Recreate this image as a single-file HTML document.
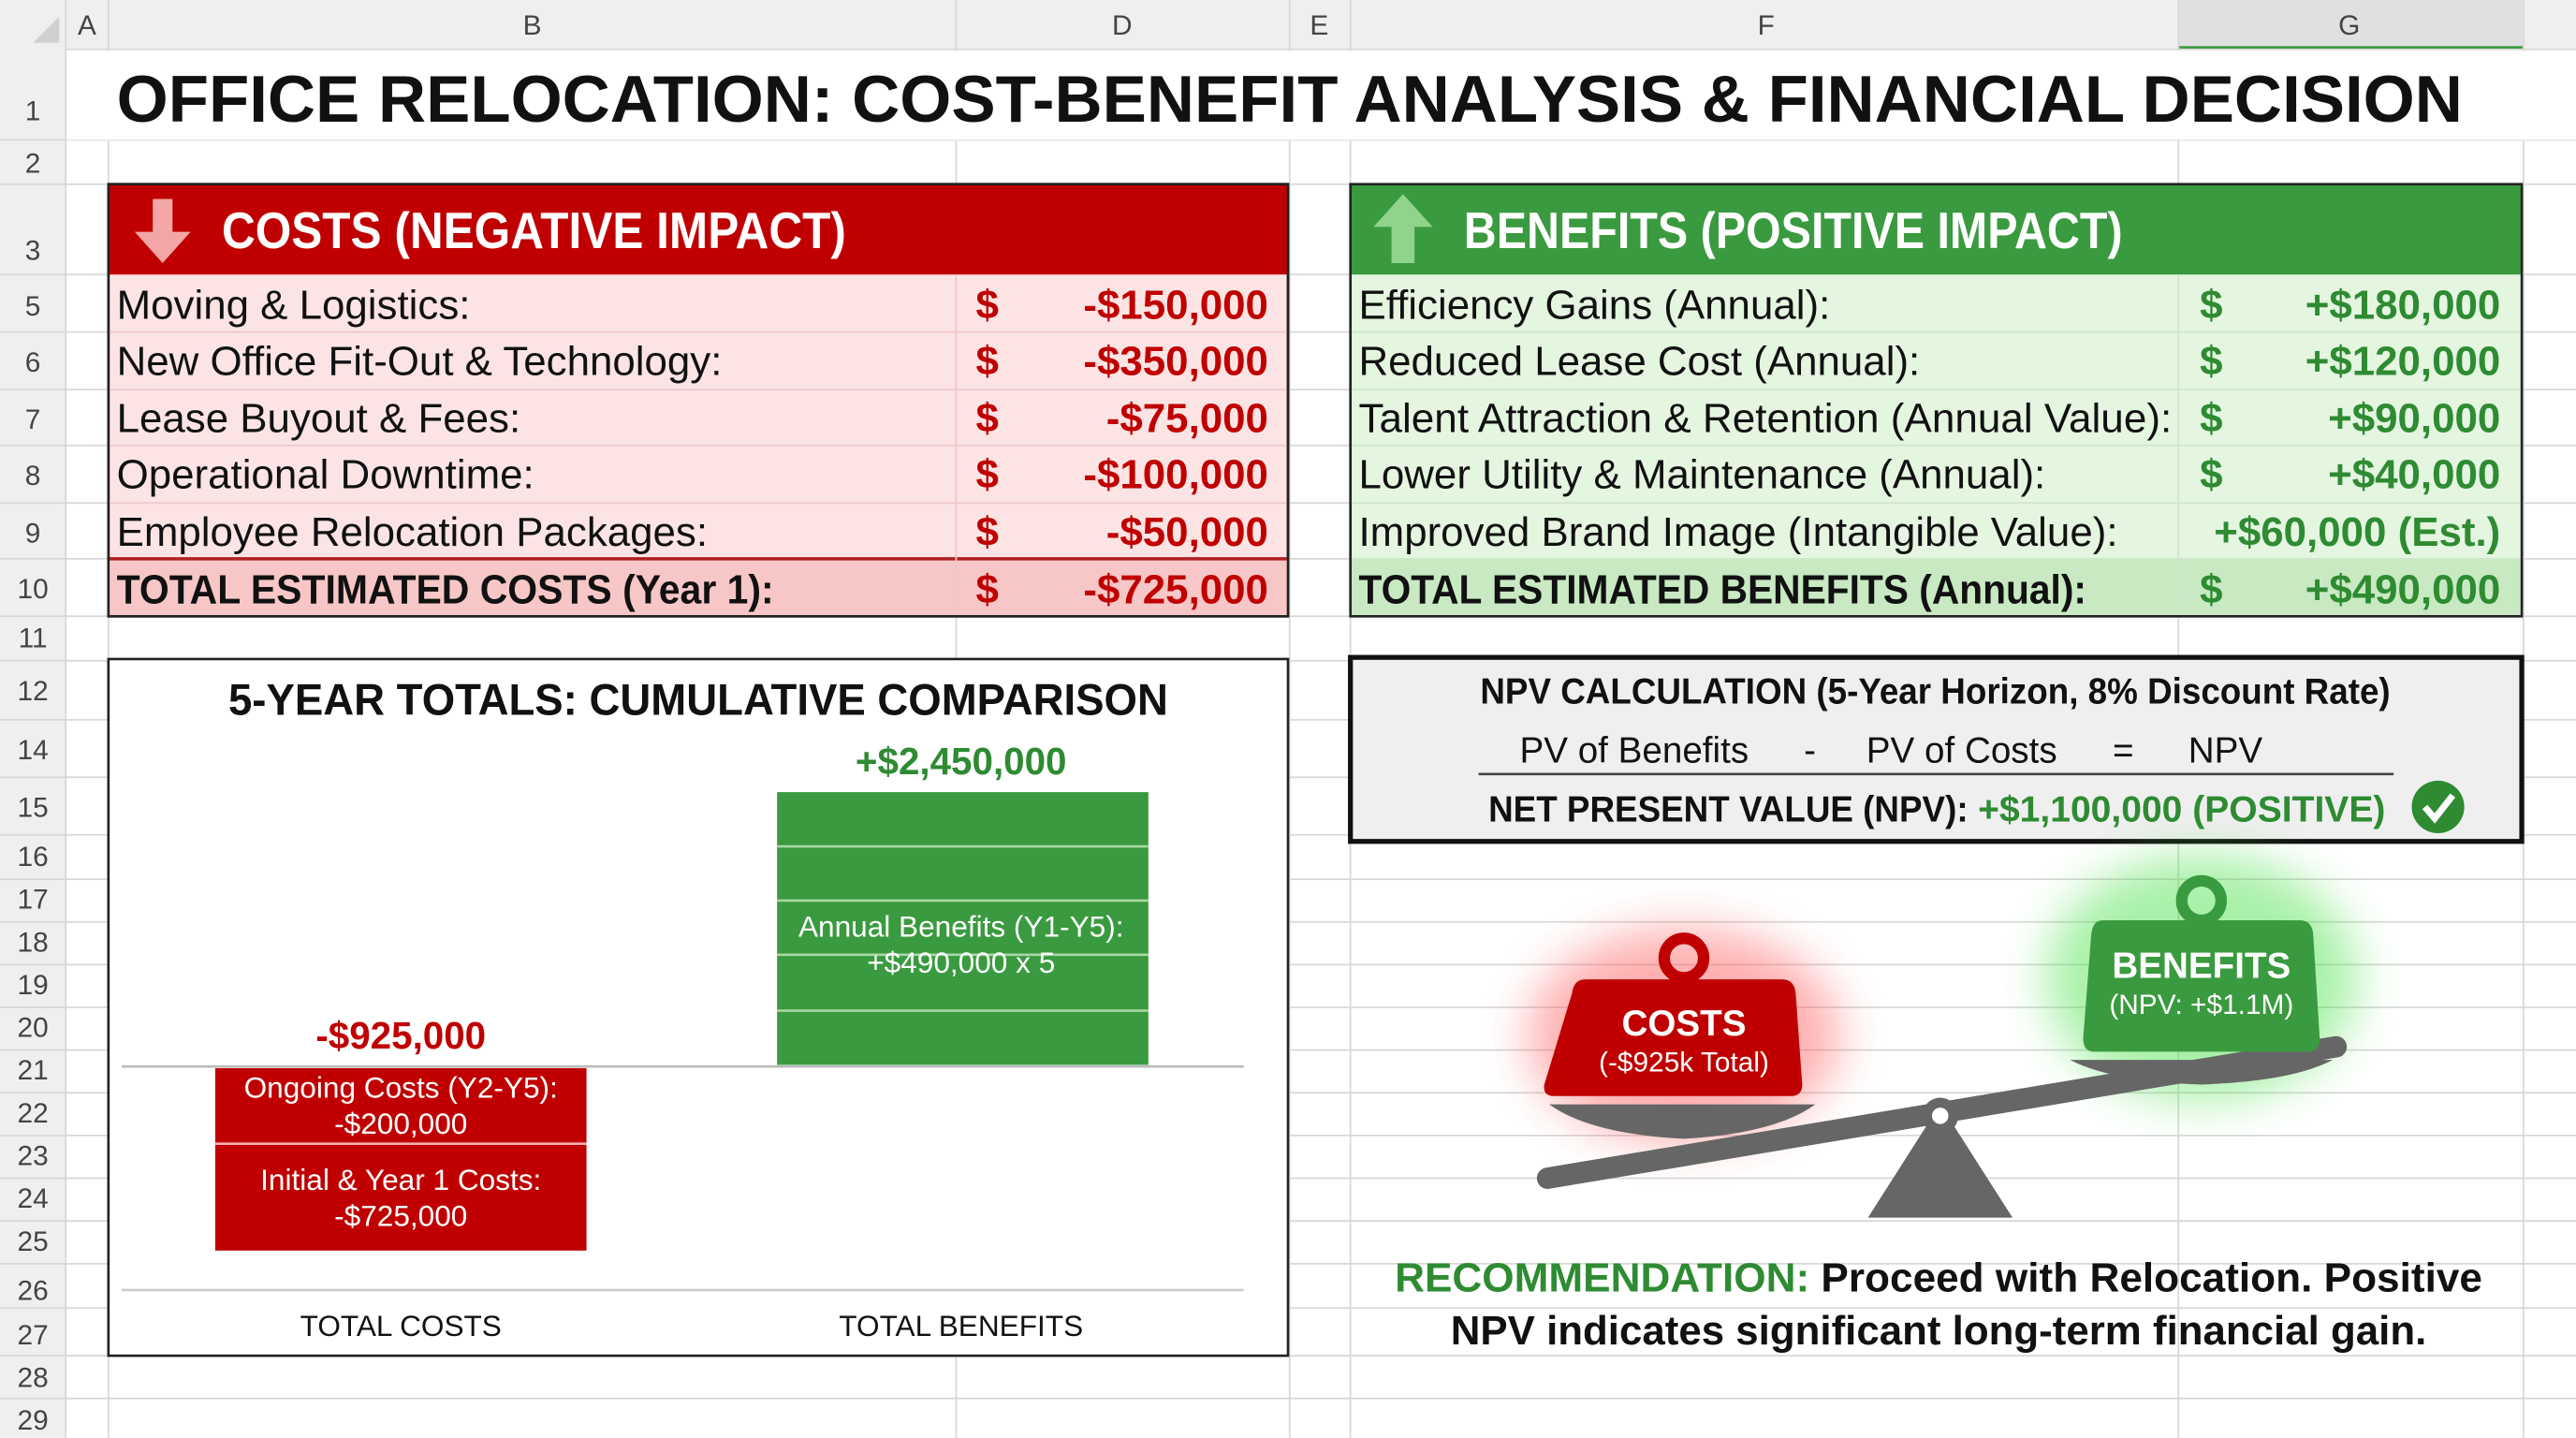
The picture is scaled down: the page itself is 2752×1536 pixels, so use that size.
<!DOCTYPE html>
<html><head><meta charset="utf-8"><style>html,body{margin:0;padding:0;background:#fff}svg{display:block}text{font-family:"Liberation Sans",sans-serif}</style></head><body>
<svg width="2752" height="1536" viewBox="0 0 1568 875" xmlns="http://www.w3.org/2000/svg">
<defs>
<filter id="gl" x="-50%" y="-50%" width="200%" height="200%"><feGaussianBlur stdDeviation="14"/></filter>
</defs>
<rect width="1568" height="875" fill="#fff"/>
<!-- headers -->
<rect x="0" y="0" width="1568" height="30" fill="#efefef"/>
<rect x="0" y="0" width="40" height="875" fill="#efefef"/>
<rect x="1326" y="0" width="210" height="30" fill="#e0e0e0"/>
<line x1="1326" y1="29" x2="1536" y2="29" stroke="#3a9a3f" stroke-width="2"/>
<g stroke="#d8d8d8" stroke-width="1">
<line x1="40" y1="30" x2="1568" y2="30"/>
<line x1="40" y1="0" x2="40" y2="875"/><line x1="66" y1="0" x2="66" y2="875"/><line x1="582" y1="0" x2="582" y2="875"/><line x1="785" y1="0" x2="785" y2="875"/><line x1="822" y1="0" x2="822" y2="875"/><line x1="1326" y1="0" x2="1326" y2="875"/><line x1="1536" y1="0" x2="1536" y2="875"/>
<line x1="0" y1="85" x2="1568" y2="85"/><line x1="0" y1="112" x2="1568" y2="112"/><line x1="0" y1="167" x2="1568" y2="167"/><line x1="0" y1="202" x2="1568" y2="202"/><line x1="0" y1="237" x2="1568" y2="237"/><line x1="0" y1="271" x2="1568" y2="271"/><line x1="0" y1="306" x2="1568" y2="306"/><line x1="0" y1="340" x2="1568" y2="340"/><line x1="0" y1="375" x2="1568" y2="375"/><line x1="0" y1="402" x2="1568" y2="402"/><line x1="0" y1="438" x2="1568" y2="438"/><line x1="0" y1="473" x2="1568" y2="473"/><line x1="0" y1="508" x2="1568" y2="508"/><line x1="0" y1="535" x2="1568" y2="535"/><line x1="0" y1="561" x2="1568" y2="561"/><line x1="0" y1="587" x2="1568" y2="587"/><line x1="0" y1="613" x2="1568" y2="613"/><line x1="0" y1="639" x2="1568" y2="639"/><line x1="0" y1="665" x2="1568" y2="665"/><line x1="0" y1="691" x2="1568" y2="691"/><line x1="0" y1="717" x2="1568" y2="717"/><line x1="0" y1="743" x2="1568" y2="743"/><line x1="0" y1="769" x2="1568" y2="769"/><line x1="0" y1="796" x2="1568" y2="796"/><line x1="0" y1="825" x2="1568" y2="825"/><line x1="0" y1="851" x2="1568" y2="851"/>
</g>
<polygon points="20,26 36,10 36,26" fill="#d0d0d0"/>
<g font-size="17" fill="#444" text-anchor="middle">
<text x="53" y="21">A</text><text x="324" y="21">B</text><text x="683" y="21">D</text><text x="803" y="21">E</text><text x="1075" y="21">F</text><text x="1430" y="21">G</text>
</g>
<g font-size="17" fill="#444" text-anchor="middle">
<text x="20" y="73">1</text><text x="20" y="105">2</text><text x="20" y="158">3</text><text x="20" y="192">5</text><text x="20" y="226">6</text><text x="20" y="261">7</text><text x="20" y="295">8</text><text x="20" y="330">9</text><text x="20" y="364">10</text><text x="20" y="394">11</text><text x="20" y="426">12</text><text x="20" y="462">14</text><text x="20" y="497">15</text><text x="20" y="527">16</text><text x="20" y="553">17</text><text x="20" y="579">18</text><text x="20" y="605">19</text><text x="20" y="631">20</text><text x="20" y="657">21</text><text x="20" y="683">22</text><text x="20" y="709">23</text><text x="20" y="735">24</text><text x="20" y="761">25</text><text x="20" y="791">26</text><text x="20" y="818">27</text><text x="20" y="844">28</text><text x="20" y="870">29</text>
</g>
<!-- title -->
<rect x="41" y="31" width="1527" height="54" fill="#fff"/>
<text x="71" y="74" font-size="40" font-weight="bold" fill="#111" textLength="1428" lengthAdjust="spacingAndGlyphs">OFFICE RELOCATION: COST-BENEFIT ANALYSIS &amp; FINANCIAL DECISION</text>
<!-- costs -->
<rect x="66" y="112" width="718" height="263" fill="#fde4e4" stroke="#222" stroke-width="1.5"/>
<rect x="66" y="112" width="718" height="55" fill="#c00000"/>
<rect x="66" y="340" width="718" height="35" fill="#f7c6c6"/>
<line x1="66" y1="340" x2="784" y2="340" stroke="#b02020" stroke-width="2"/>
<g stroke="#f0c8c8"><line x1="66" y1="202" x2="784" y2="202"/><line x1="66" y1="237" x2="784" y2="237"/><line x1="66" y1="271" x2="784" y2="271"/><line x1="66" y1="306" x2="784" y2="306"/><line x1="582" y1="167" x2="582" y2="375"/></g>
<rect x="66" y="112" width="718" height="263" fill="none" stroke="#222" stroke-width="1.5"/>
<polygon points="93,121 105,121 105,141 116,141 99,160 82,141 93,141" fill="#f4a6a6"/>
<text x="135" y="151" font-size="31" font-weight="bold" fill="#fff" textLength="380" lengthAdjust="spacingAndGlyphs">COSTS (NEGATIVE IMPACT)</text>
<g font-size="25" fill="#111">
<text x="71" y="194">Moving &amp; Logistics:</text>
<text x="71" y="228">New Office Fit-Out &amp; Technology:</text>
<text x="71" y="263">Lease Buyout &amp; Fees:</text>
<text x="71" y="297">Operational Downtime:</text>
<text x="71" y="332">Employee Relocation Packages:</text>
<text x="71" y="367" font-weight="bold" textLength="400" lengthAdjust="spacingAndGlyphs">TOTAL ESTIMATED COSTS (Year 1):</text>
</g>
<g font-size="25" font-weight="bold" fill="#c00000">
<text x="594" y="194">$</text><text x="594" y="228">$</text><text x="594" y="263">$</text><text x="594" y="297">$</text><text x="594" y="332">$</text><text x="594" y="367">$</text>
</g>
<g font-size="25" font-weight="bold" fill="#c00000" text-anchor="end">
<text x="772" y="194">-$150,000</text><text x="772" y="228">-$350,000</text><text x="772" y="263">-$75,000</text><text x="772" y="297">-$100,000</text><text x="772" y="332">-$50,000</text><text x="772" y="367">-$725,000</text>
</g>
<!-- benefits -->
<rect x="822" y="112" width="713" height="263" fill="#e4f5e0"/>
<rect x="822" y="112" width="713" height="55" fill="#3a9a3f"/>
<rect x="822" y="340" width="713" height="35" fill="#c8e9c2"/>
<g stroke="#cfe8ca"><line x1="822" y1="202" x2="1535" y2="202"/><line x1="822" y1="237" x2="1535" y2="237"/><line x1="822" y1="271" x2="1535" y2="271"/><line x1="822" y1="306" x2="1535" y2="306"/><line x1="822" y1="340" x2="1535" y2="340"/><line x1="1326" y1="167" x2="1326" y2="375"/></g>
<rect x="822" y="112" width="713" height="263" fill="none" stroke="#222" stroke-width="1.5"/>
<polygon points="854,118 872,138 861,138 861,160 847,160 847,138 836,138" fill="#8fd48a"/>
<text x="891" y="151" font-size="31" font-weight="bold" fill="#fff" textLength="401" lengthAdjust="spacingAndGlyphs">BENEFITS (POSITIVE IMPACT)</text>
<g font-size="25" fill="#111">
<text x="827" y="194">Efficiency Gains (Annual):</text>
<text x="827" y="228">Reduced Lease Cost (Annual):</text>
<text x="827" y="263" textLength="495" lengthAdjust="spacingAndGlyphs">Talent Attraction &amp; Retention (Annual Value):</text>
<text x="827" y="297">Lower Utility &amp; Maintenance (Annual):</text>
<text x="827" y="332">Improved Brand Image (Intangible Value):</text>
<text x="827" y="367" font-weight="bold" textLength="443" lengthAdjust="spacingAndGlyphs">TOTAL ESTIMATED BENEFITS (Annual):</text>
</g>
<g font-size="25" font-weight="bold" fill="#2e8b32">
<text x="1339" y="194">$</text><text x="1339" y="228">$</text><text x="1339" y="263">$</text><text x="1339" y="297">$</text><text x="1339" y="367">$</text>
</g>
<g font-size="25" font-weight="bold" fill="#2e8b32" text-anchor="end">
<text x="1522" y="194">+$180,000</text><text x="1522" y="228">+$120,000</text><text x="1522" y="263">+$90,000</text><text x="1522" y="297">+$40,000</text><text x="1522" y="332">+$60,000 (Est.)</text><text x="1522" y="367">+$490,000</text>
</g>
<!-- chart -->
<rect x="66" y="401" width="718" height="424" fill="#fff" stroke="#222" stroke-width="1.5"/>
<text x="425" y="435" font-size="27" font-weight="bold" fill="#111" text-anchor="middle" textLength="572" lengthAdjust="spacingAndGlyphs">5-YEAR TOTALS: CUMULATIVE COMPARISON</text>
<text x="585" y="471" font-size="23" font-weight="bold" fill="#2e8b32" text-anchor="middle">+$2,450,000</text>
<rect x="473" y="482" width="226" height="166" fill="#3a9a3f"/>
<g stroke="#a8d8a4" stroke-width="1.5"><line x1="473" y1="515" x2="699" y2="515"/><line x1="473" y1="548" x2="699" y2="548"/><line x1="473" y1="581" x2="699" y2="581"/><line x1="473" y1="615" x2="699" y2="615"/></g>
<rect x="478" y="550" width="216" height="30" fill="#3a9a3f"/>
<text x="585" y="570" font-size="18" fill="#fff" text-anchor="middle">Annual Benefits (Y1-Y5):</text>
<text x="585" y="592" font-size="18" fill="#fff" text-anchor="middle">+$490,000 x 5</text>
<line x1="74" y1="649" x2="757" y2="649" stroke="#bbb" stroke-width="1.5"/>
<text x="244" y="638" font-size="23" font-weight="bold" fill="#c00000" text-anchor="middle">-$925,000</text>
<rect x="131" y="650" width="226" height="111" fill="#c00000"/>
<line x1="131" y1="696" x2="357" y2="696" stroke="#f0b0b0" stroke-width="1.5"/>
<g font-size="18" fill="#fff" text-anchor="middle">
<text x="244" y="668">Ongoing Costs (Y2-Y5):</text><text x="244" y="690">-$200,000</text>
<text x="244" y="724">Initial &amp; Year 1 Costs:</text><text x="244" y="746">-$725,000</text>
</g>
<line x1="74" y1="785" x2="757" y2="785" stroke="#ccc" stroke-width="1.5"/>
<text x="244" y="813" font-size="18" fill="#111" text-anchor="middle">TOTAL COSTS</text>
<text x="585" y="813" font-size="18" fill="#111" text-anchor="middle">TOTAL BENEFITS</text>
<!-- NPV -->
<rect x="822" y="400" width="713" height="112" fill="#efefef" stroke="#111" stroke-width="3"/>
<text x="1178" y="428" font-size="22" font-weight="bold" fill="#111" text-anchor="middle" textLength="554" lengthAdjust="spacingAndGlyphs">NPV CALCULATION (5-Year Horizon, 8% Discount Rate)</text>
<g font-size="22" fill="#111"><text x="925" y="464">PV of Benefits</text><text x="1098" y="464">-</text><text x="1136" y="464">PV of Costs</text><text x="1286" y="464">=</text><text x="1332" y="464">NPV</text></g>
<line x1="900" y1="471" x2="1457" y2="471" stroke="#444" stroke-width="1.5"/>
<text x="906" y="500" font-size="22" font-weight="bold" fill="#111" textLength="292" lengthAdjust="spacingAndGlyphs">NET PRESENT VALUE (NPV):</text>
<text x="1204" y="500" font-size="22" font-weight="bold" fill="#2e8b32" textLength="248" lengthAdjust="spacingAndGlyphs">+$1,100,000 (POSITIVE)</text>
<circle cx="1484" cy="491" r="16" fill="#2e8b32"/>
<polyline points="1476,491 1482,498 1493,484" fill="none" stroke="#fff" stroke-width="4"/>
<!-- scale -->
<ellipse cx="1025" cy="630" rx="95" ry="65" fill="#ff5050" opacity="0.45" filter="url(#gl)"/>
<ellipse cx="1340" cy="595" rx="95" ry="75" fill="#40e040" opacity="0.45" filter="url(#gl)"/>
<polygon points="1181,672 1225,741 1137,741" fill="#666"/>
<line x1="942" y1="717" x2="1422" y2="637" stroke="#666" stroke-width="13" stroke-linecap="round"/>
<circle cx="1181" cy="679" r="11" fill="#666"/><circle cx="1181" cy="679" r="5" fill="#fff"/>
<path d="M943,672 L1105,672 Q1080,690 1025,693 Q968,690 943,672Z" fill="#666"/>
<path d="M1260,645 L1420,645 Q1395,658 1340,660 Q1285,658 1260,645Z" fill="#666"/>
<circle cx="1025" cy="583" r="12" fill="none" stroke="#c00000" stroke-width="7"/>
<path d="M965,596 L1085,596 Q1092,596 1093,604 L1097,660 Q1097,667 1090,667 L946,667 Q939,667 940,660 L957,604 Q958,596 965,596Z" fill="#c00000"/>
<text x="1025" y="630" font-size="22" font-weight="bold" fill="#fff" text-anchor="middle">COSTS</text>
<text x="1025" y="652" font-size="17" fill="#fff" text-anchor="middle">(-$925k Total)</text>
<circle cx="1340" cy="548" r="12" fill="none" stroke="#3a9a3f" stroke-width="7"/>
<path d="M1280,560 L1400,560 Q1407,560 1408,568 L1412,632 Q1412,640 1405,640 L1275,640 Q1268,640 1268,632 L1273,568 Q1274,560 1280,560Z" fill="#3a9a3f"/>
<text x="1340" y="595" font-size="22" font-weight="bold" fill="#fff" text-anchor="middle">BENEFITS</text>
<text x="1340" y="617" font-size="17" fill="#fff" text-anchor="middle">(NPV: +$1.1M)</text>
<!-- recommendation -->
<text x="1180" y="786" font-size="25" font-weight="bold" fill="#111" text-anchor="middle" textLength="662" lengthAdjust="spacingAndGlyphs"><tspan fill="#2e8b32">RECOMMENDATION:</tspan> Proceed with Relocation. Positive</text>
<text x="1180" y="818" font-size="25" font-weight="bold" fill="#111" text-anchor="middle" textLength="594" lengthAdjust="spacingAndGlyphs">NPV indicates significant long-term financial gain.</text>
</svg>
</body></html>
